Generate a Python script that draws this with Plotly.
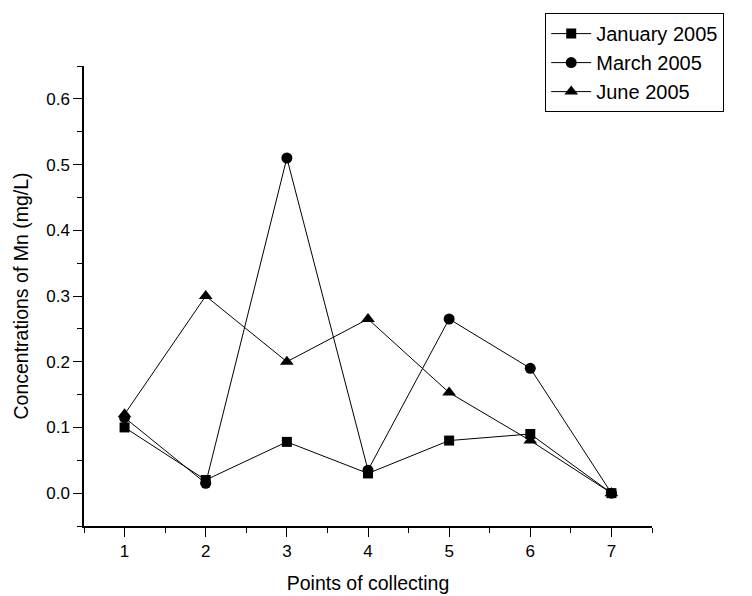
import plotly.graph_objects as go

points = [1, 2, 3, 4, 5, 6, 7]
january = [0.10, 0.02, 0.078, 0.03, 0.08, 0.09, 0.0]
march = [0.115, 0.015, 0.51, 0.035, 0.265, 0.19, 0.0]
june = [0.12, 0.30, 0.20, 0.265, 0.153, 0.08, 0.0]

series = [
    ("January 2005", january, "square", 10),
    ("March 2005", march, "circle", 11),
    ("June 2005", june, "triangle-up", 12),
]

fig = go.Figure()
for name, vals, sym, size in series:
    fig.add_trace(go.Scatter(
        x=points, y=vals, name=name, mode="lines+markers",
        line=dict(color="black", width=1),
        marker=dict(symbol=sym, size=size, color="black"),
    ))

axis_common = dict(
    showline=True, linecolor="black", linewidth=1.5, mirror=False,
    ticks="outside", ticklen=9, tickwidth=1.2, tickcolor="black",
    showgrid=False, zeroline=False, automargin=False,
    tickfont=dict(family="Liberation Sans, Arial", size=17, color="black"),
)

fig.update_layout(
    width=752, height=596,
    margin=dict(l=84, r=100, t=66, b=70),
    plot_bgcolor="white", paper_bgcolor="white",
    font=dict(family="Liberation Sans, Arial", color="black"),
    xaxis=dict(
        range=[0.5, 7.5], tick0=1, dtick=1,
        minor=dict(ticks="outside", ticklen=5, dtick=0.5, tick0=0.5, tickcolor="black"),
        title=dict(text="Points of collecting", font=dict(size=19.5), standoff=16),
        **axis_common,
    ),
    yaxis=dict(
        range=[-0.05, 0.65], tick0=0, dtick=0.1, tickformat=".1f",
        minor=dict(ticks="outside", ticklen=5, dtick=0.05, tick0=0, tickcolor="black"),
        title=dict(text="Concentrations of Mn (mg/L)", font=dict(size=19.5), standoff=12),
        **axis_common,
    ),
    legend=dict(
        x=0.812, y=1.115, xanchor="left", yanchor="top",
        bordercolor="black", borderwidth=1, bgcolor="white",
        font=dict(size=20, color="black"),
        tracegroupgap=0, itemwidth=40,
    ),
    showlegend=True,
)

fig.write_html("out.html")
